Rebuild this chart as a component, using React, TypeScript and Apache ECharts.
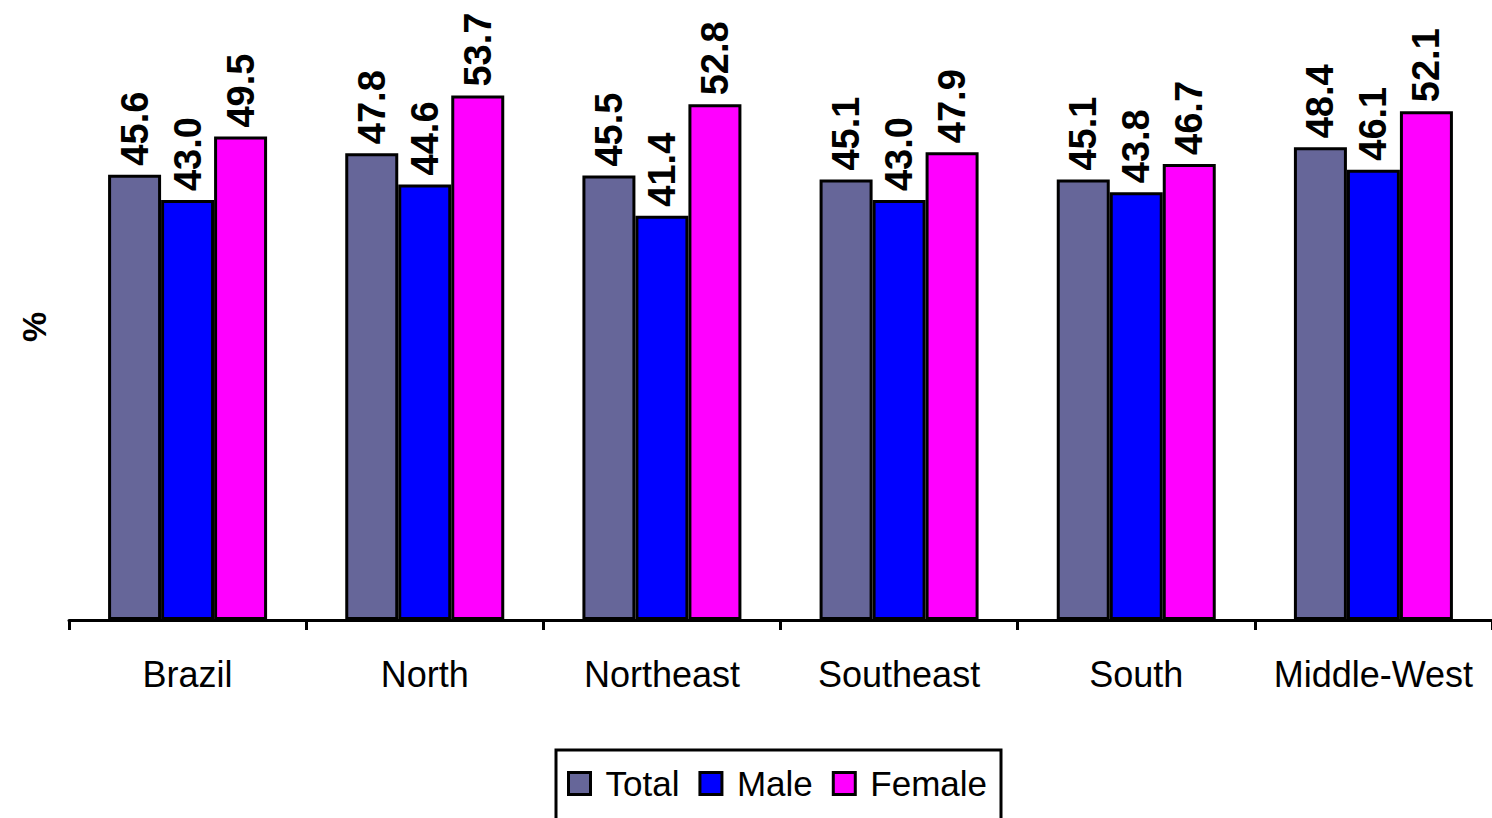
import React, { useEffect, useRef } from "react";
import * as echarts from "echarts";

const categories = ["Brazil", "North", "Northeast", "Southeast", "South", "Middle-West"];
const totalValues = [45.6, 47.8, 45.5, 45.1, 45.1, 48.4];
const maleValues = [43.0, 44.6, 41.4, 43.0, 43.8, 46.1];
const femaleValues = [49.5, 53.7, 52.8, 47.9, 46.7, 52.1];
const seriesNames = ["Total", "Male", "Female"];
const seriesColors = ["#666699", "#0000FF", "#FF00FF"];

const FONT = "'Liberation Sans', Arial, sans-serif";

export default function App() {
  const ref = useRef<HTMLDivElement>(null);
  useEffect(() => {
    if (!ref.current) return;
    const chart = echarts.init(ref.current, undefined, { renderer: "svg" });
    const values = [totalValues, maleValues, femaleValues];
    const label = {
      show: true,
      position: "top",
      rotate: 90,
      align: "left",
      verticalAlign: "middle",
      distance: 9,
      fontSize: 38,
      fontWeight: "bold",
      fontFamily: FONT,
      color: "#000",
      formatter: (p: any) => Number(p.value).toFixed(1),
    };
    chart.setOption({
      animation: false,
      backgroundColor: "#fff",
      textStyle: { fontFamily: FONT },
      grid: { left: 69, top: 34, width: 1426, bottom: 198, containLabel: false },
      xAxis: {
        type: "category",
        data: categories,
        boundaryGap: true,
        axisLine: { show: true, lineStyle: { color: "#000", width: 3 } },
        axisTick: { show: true, length: 10, lineStyle: { color: "#000", width: 3 } },
        axisLabel: { color: "#000", fontSize: 36, fontFamily: FONT, margin: 36, interval: 0 },
        splitLine: { show: false },
      },
      yAxis: {
        type: "value",
        min: 0,
        max: 60,
        interval: 10,
        axisLine: { show: false },
        axisTick: { show: false },
        axisLabel: { show: false },
        splitLine: { show: false },
        name: "%",
        nameLocation: "middle",
        nameRotate: 90,
        nameGap: 18,
        nameTextStyle: { color: "#000", fontSize: 34, fontWeight: "bold", fontFamily: FONT },
      },
      legend: {
        show: true,
        left: 556,
        top: 750,
        orient: "horizontal",
        data: seriesNames,
        itemWidth: 22,
        itemHeight: 22,
        itemGap: 19,
        icon: "rect",
        borderColor: "#000",
        borderWidth: 3,
        padding: [16, 14, 40, 11],
        backgroundColor: "#fff",
        textStyle: { color: "#000", fontSize: 35, fontFamily: FONT, padding: [0, 0, 0, 10] },
        itemStyle: { borderColor: "#000", borderWidth: 3 },
      },
      series: seriesNames.map((name, i) => ({
        name,
        type: "bar",
        data: values[i],
        barWidth: 53,
        barGap: "0%",
        itemStyle: { color: seriesColors[i], borderColor: "#000", borderWidth: 3 },
        label,
      })),
    });
    return () => chart.dispose();
  }, []);
  return (
    <div
      ref={ref}
      style={{ position: "absolute", left: 0, top: 0, width: 1492, height: 818 }}
    />
  );
}
